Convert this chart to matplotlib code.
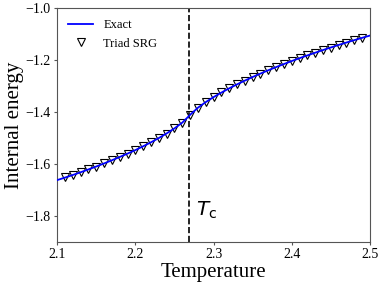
import matplotlib
matplotlib.use("Agg")
import matplotlib.pyplot as plt

plt.rcParams['font.family'] = 'serif'
plt.rcParams['font.serif'] = ['Liberation Serif', 'DejaVu Serif']
plt.rcParams['mathtext.fontset'] = 'dejavusans'

# exact internal energy
T_exact = [2.10, 2.11, 2.12, 2.13, 2.14, 2.15, 2.16, 2.17, 2.18, 2.19,
           2.20, 2.21, 2.22, 2.23, 2.24, 2.25, 2.26, 2.269, 2.27, 2.28,
           2.29, 2.30, 2.31, 2.32, 2.33, 2.34, 2.35, 2.36, 2.37, 2.38,
           2.39, 2.40, 2.41, 2.42, 2.43, 2.44, 2.45, 2.46, 2.47, 2.48,
           2.49, 2.50]
E_exact = [-1.6620, -1.6524, -1.6424, -1.6319, -1.6210, -1.6097, -1.5979, -1.5858, -1.5731, -1.5601,
           -1.5466, -1.5320, -1.5166, -1.5002, -1.4825, -1.4631, -1.4410, -1.4142, -1.4109, -1.3836,
           -1.3620, -1.3428, -1.3254, -1.3091, -1.2938, -1.2793, -1.2654, -1.2522, -1.2395, -1.2273,
           -1.2155, -1.2040, -1.1930, -1.1823, -1.1719, -1.1617, -1.1518, -1.1421, -1.1327, -1.1236,
           -1.1147, -1.1060]

# Triad SRG points
T_srg = [2.11, 2.12, 2.13, 2.14, 2.15, 2.16, 2.17, 2.18, 2.19, 2.20,
         2.21, 2.22, 2.23, 2.24, 2.25, 2.26, 2.27, 2.28, 2.29, 2.30,
         2.31, 2.32, 2.33, 2.34, 2.35, 2.36, 2.37, 2.38, 2.39, 2.40,
         2.41, 2.42, 2.43, 2.44, 2.45, 2.46, 2.47, 2.48, 2.49]
E_srg = [-1.652, -1.642, -1.632, -1.621, -1.610, -1.598, -1.586, -1.573, -1.560, -1.547,
         -1.532, -1.517, -1.500, -1.483, -1.463, -1.441, -1.411, -1.384, -1.362, -1.343,
         -1.325, -1.309, -1.294, -1.279, -1.265, -1.252, -1.240, -1.227, -1.216, -1.204,
         -1.193, -1.182, -1.172, -1.162, -1.152, -1.142, -1.133, -1.124, -1.115]

Tc = 2.269

fig = plt.figure(figsize=(3.81, 2.86), dpi=100)
ax = fig.add_axes([0.150, 0.154, 0.821, 0.818])

ax.plot(T_exact, E_exact, color='blue', lw=1.3, label='Exact', zorder=3)
ax.plot(T_srg, E_srg, ls='none', marker='v', ms=6, mfc='white', mec='black',
        mew=0.8, label='Triad SRG', zorder=2)
ax.axvline(Tc, color='black', ls='--', lw=1.2)
ax.text(2.277, -1.8, r'$T_\mathrm{c}$', fontsize=14.5, va='baseline')

ax.set_xlim(2.1, 2.5)
ax.set_ylim(-1.9, -1.0)
ax.set_xticks([2.1, 2.2, 2.3, 2.4, 2.5])
ax.set_yticks([-1.8, -1.6, -1.4, -1.2, -1.0])
ax.tick_params(direction='out', length=2.5, width=0.8, color='#555555',
               labelsize=10, pad=2)
for s in ax.spines.values():
    s.set_color('#555555')
ax.set_xlabel('Temperature', fontsize=15, labelpad=1)
ax.set_ylabel('Internal energy', fontsize=15, labelpad=1)
ax.legend(loc='upper left', frameon=False, fontsize=9)

fig.savefig('out.png', dpi=100)
